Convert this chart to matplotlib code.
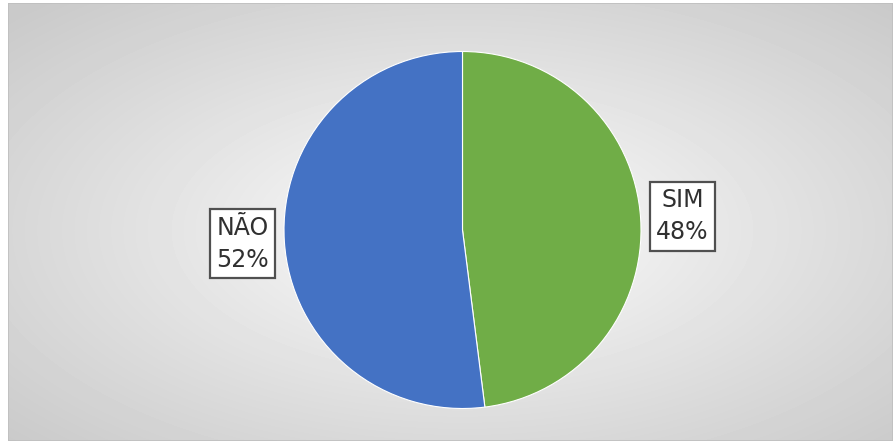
import numpy as np
import matplotlib.pyplot as plt
from matplotlib.patches import Rectangle

labels = ["SIM", "NÃO"]
values = [48, 52]
colors = ["#70AD47", "#4472C4"]

W, H = 893, 441
fig = plt.figure(figsize=(W / 100, H / 100), dpi=100)
fig.patch.set_facecolor("white")

# chart area with radial grey gradient
bg = fig.add_axes([8 / W, 0, 885 / W, 438 / H])
bg.set_axis_off()
yy, xx = np.mgrid[0:438, 0:885]
cx, cy = 454, 227
d = np.sqrt(((xx - cx) / 442.0) ** 2 + ((yy - cy) / 219.0) ** 2) / np.sqrt(2)
g = 1.0 - 0.21 * np.clip(d, 0, 1) ** 0.9
bg.imshow(g, cmap="gray", vmin=0, vmax=1, aspect="auto", interpolation="bilinear")
bg.add_patch(Rectangle((0, 0), 1, 1, transform=bg.transAxes, fill=False,
                       edgecolor="#bfbfbf", linewidth=1.2))

# pie
r = 178.5
ax = fig.add_axes([(462.5 - r) / W, (441 - 230 - r) / H, 2 * r / W, 2 * r / H])
wedges, texts = ax.pie(
    values, colors=colors, startangle=90, counterclock=False,
    labels=labels, labeldistance=1.235,
    wedgeprops=dict(edgecolor="white", linewidth=0.8),
)
for t, v in zip(texts, values):
    t.set_text(f"{t.get_text()}\n{v}%")
    t.set_ha("center")
    t.set_va("center")
    t.set_fontsize(17)
    t.set_color("#303030")
    t.set_linespacing(1.4)
    t.set_bbox(dict(boxstyle="square,pad=0.28", facecolor="white",
                    edgecolor="#505050", linewidth=1.6))
ax.set_xlim(-1, 1)
ax.set_ylim(-1, 1)

fig.savefig("out.png", dpi=100)
